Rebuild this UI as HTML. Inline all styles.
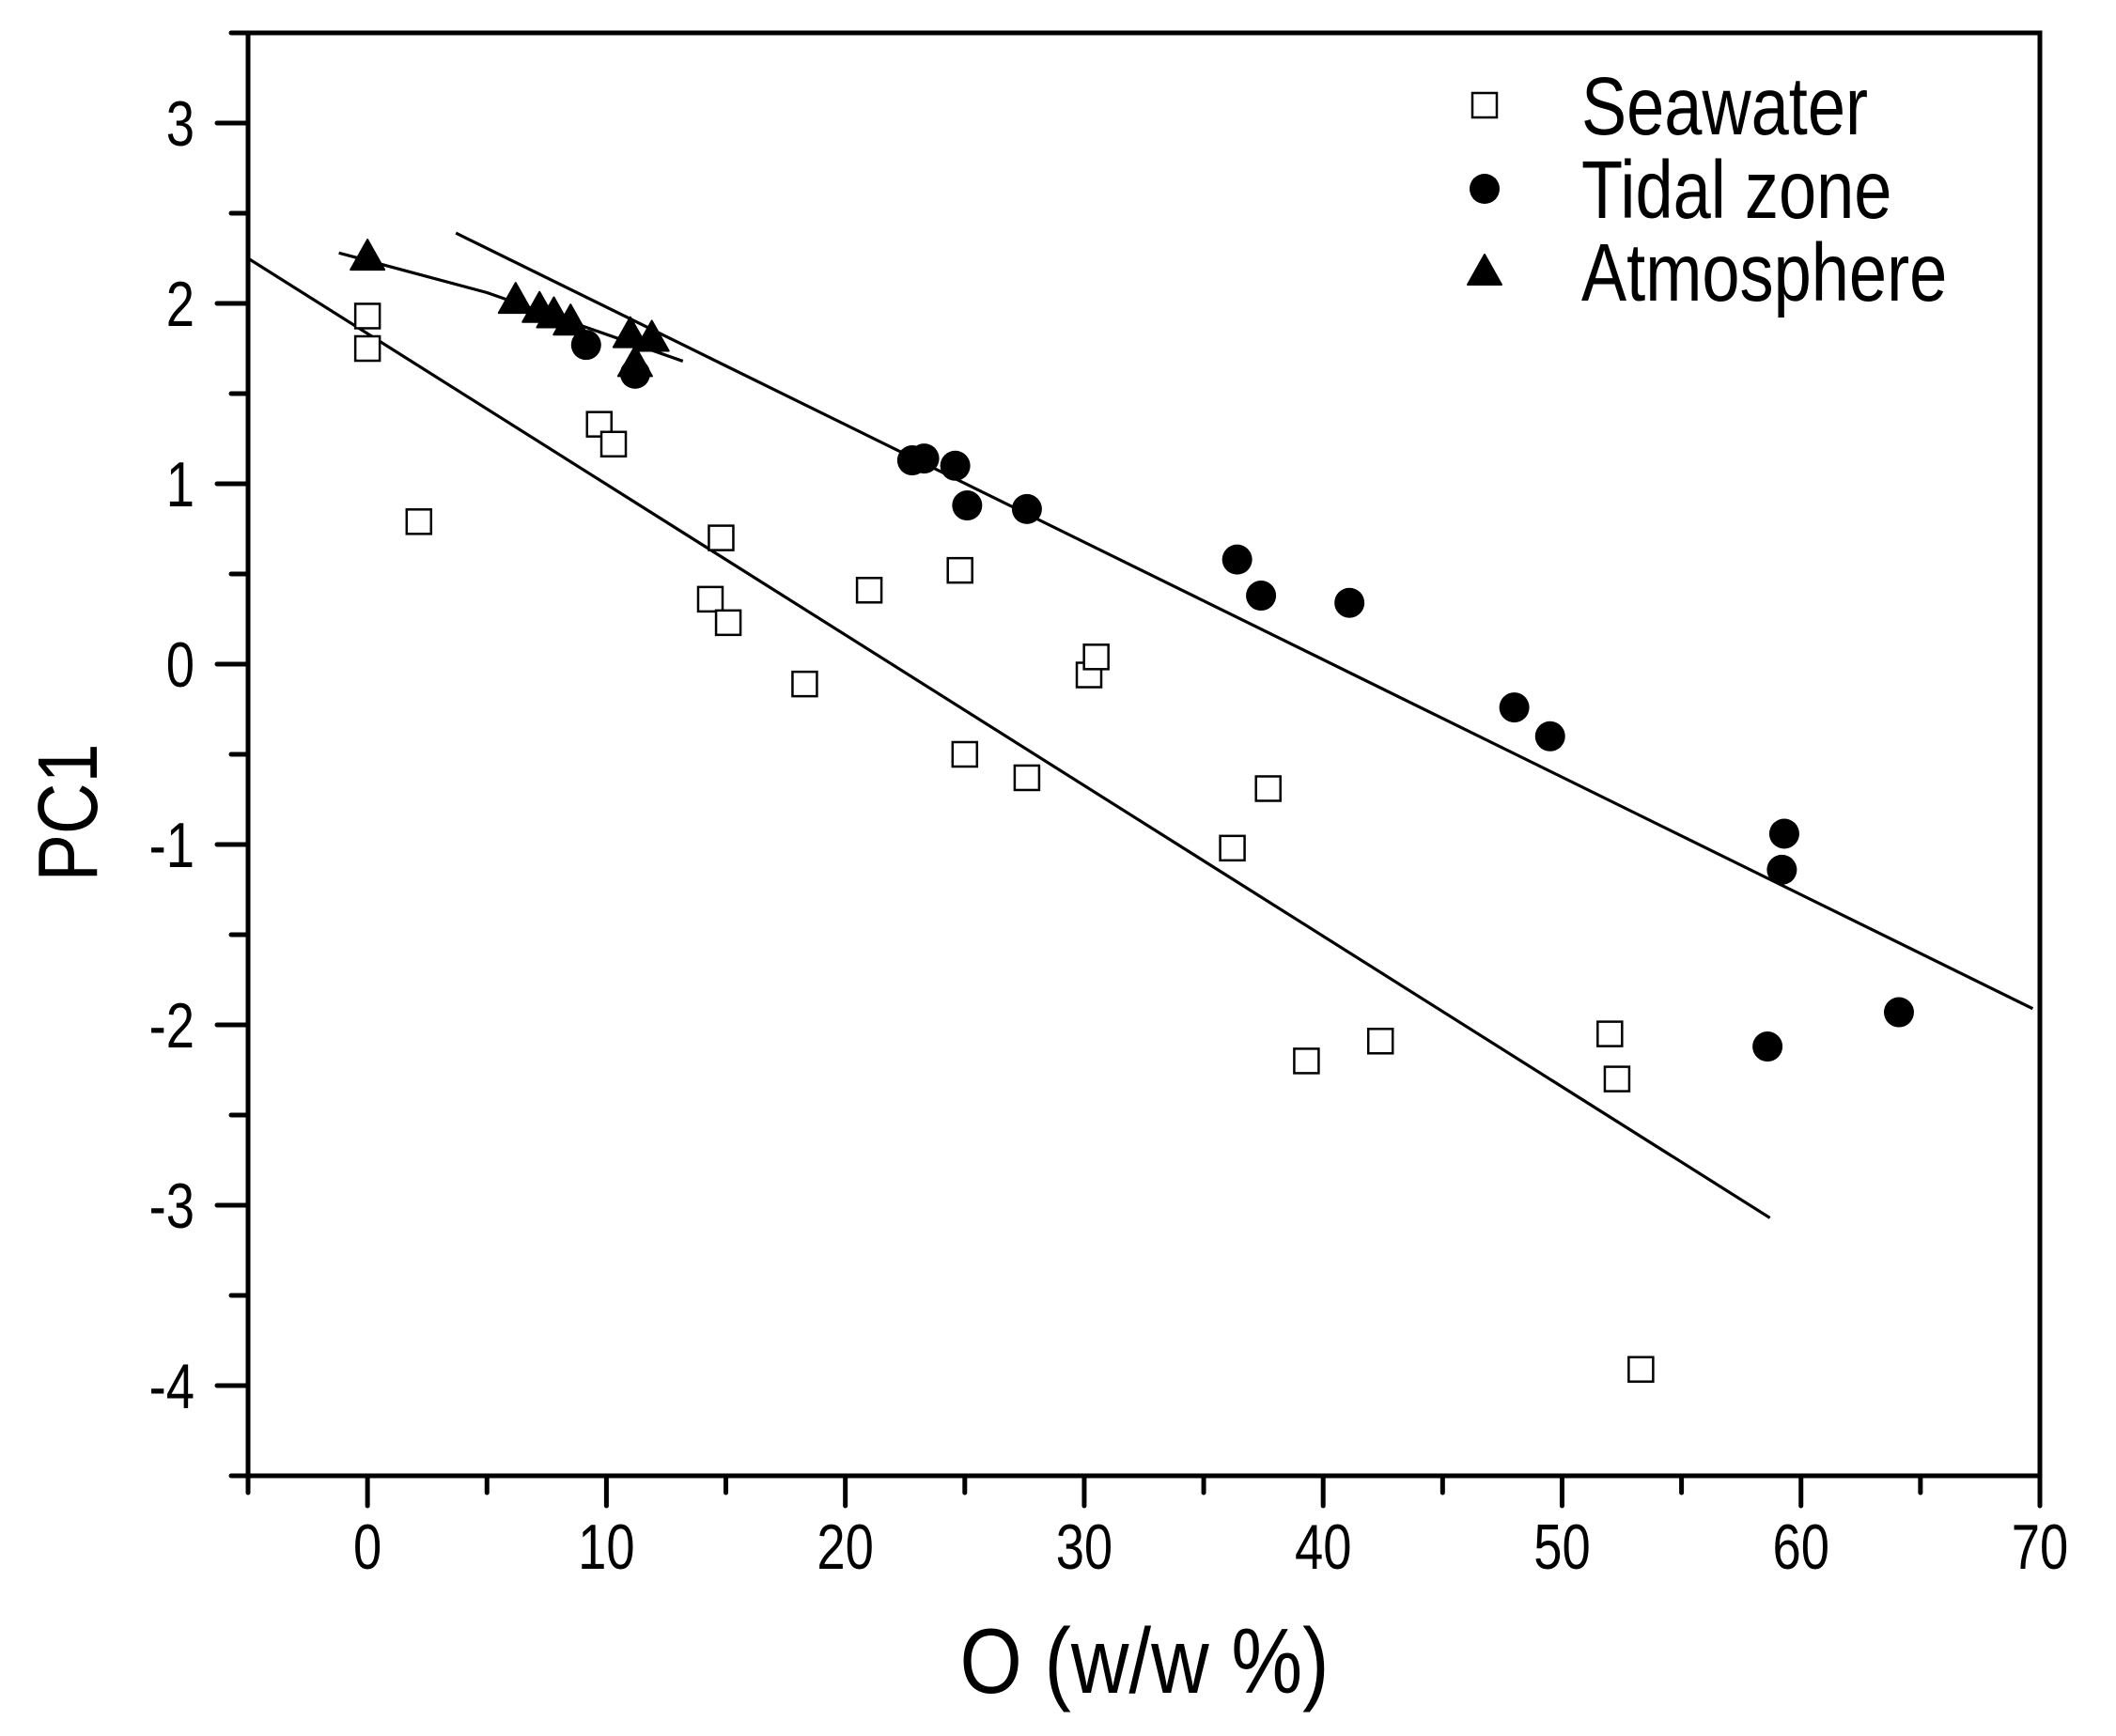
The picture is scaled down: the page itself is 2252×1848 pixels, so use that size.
<!DOCTYPE html>
<html><head><meta charset="utf-8"><style>
html,body{margin:0;padding:0;background:#fff}
svg{display:block;font-family:"Liberation Sans",Arial,sans-serif}
</style></head><body>
<svg id="chart" width="2252" height="1848" viewBox="0 0 2252 1848" xmlns="http://www.w3.org/2000/svg"></svg>
<script>
const xTicks=[0,10,20,30,40,50,60,70];
const yTicks=[-4,-3,-2,-1,0,1,2,3];
const seaX=[0,0,2.15,9.7,10.3,14.8,14.35,15.1,18.3,21.0,24.8,25.0,27.6,30.2,30.5,36.2,37.7,39.3,42.4,52.0,52.3,53.3];
const seaY=[1.93,1.75,0.79,1.33,1.22,0.70,0.36,0.23,-0.11,0.41,0.52,-0.50,-0.63,-0.06,0.04,-1.02,-0.69,-2.20,-2.09,-2.05,-2.30,-3.91];
const tidX=[9.15,11.2,22.8,23.3,24.6,25.1,27.6,36.4,37.4,41.1,48.0,49.5,59.3,59.2,58.6,64.1];
const tidY=[1.77,1.61,1.13,1.14,1.10,0.88,0.86,0.58,0.38,0.34,-0.24,-0.40,-0.94,-1.14,-2.12,-1.93];
const atmX=[0,6.2,7.2,7.8,8.5,11.0,11.9,11.2];
const atmY=[2.26,2.02,1.97,1.94,1.90,1.83,1.81,1.67];
const seaFitX=[-5,58.7], seaFitY=[2.25,-3.07];
const tidFitX=[3.7,69.7], tidFitY=[2.39,-1.91];
const atmFitX=[-1.2,5,13.2], atmFitY=[2.28,2.06,1.68];

const L=264,R=2171,T=35,B=1571,XMIN=-5,XMAX=70,YMIN=-4.5,YMAX=3.5;
const sx=v=>L+(v-XMIN)/(XMAX-XMIN)*(R-L);
const sy=v=>B-(v-YMIN)/(YMAX-YMIN)*(B-T);
const svg=document.getElementById('chart');
const NS='http://www.w3.org/2000/svg';
function mk(tag,attrs,parent){const e=document.createElementNS(NS,tag);for(const k in attrs)e.setAttribute(k,attrs[k]);(parent||svg).appendChild(e);return e;}
function txt(x,y,size,anchor,scale,str,rot){
  const tr=`translate(${x},${y})`+(rot?` rotate(${rot})`:'')+` scale(${scale},1)`;
  const t=mk('text',{x:0,y:0,'font-size':size,'text-anchor':anchor,transform:tr});
  t.textContent=str;return t;
}

let fr=mk('rect',{x:L,y:T,width:R-L,height:B-T,fill:'none',stroke:'#000','stroke-width':5});



for(let v=-5;v<=70;v+=5){
  const major=v%10===0;
  let t=mk('line',{x1:sx(v),x2:sx(v),y1:B,y2:B+(major?32:18),stroke:'#000','stroke-width':5,'stroke-linecap':'round'});
  
  
}
xTicks.forEach(v=>{
  let t=txt(sx(v),1670,68,'middle',0.8,String(v));
  
  
});
for(let v=-4.5;v<=3.5;v+=0.5){
  const major=Number.isInteger(v);
  let t=mk('line',{x1:L,x2:L-(major?33:18),y1:sy(v),y2:sy(v),stroke:'#000','stroke-width':5,'stroke-linecap':'round'});
  
  
}
yTicks.forEach(v=>{
  let t=txt(207,sy(v)+24,68,'end',0.8,String(v));
  
  
});
let xt=txt(1218,1802,98,'middle',0.87,'O (w/w %)');


let yt=txt(103,865,90,'middle',0.84,'PC1',-90);



function fit(xs,ys,name){
  const pts=xs.map((x,i)=>sx(x)+','+sy(ys[i])).join(' ');
  let p=mk('polyline',{points:pts,fill:'none',stroke:'#000','stroke-width':3.2});
  
  
}
fit(seaFitX,seaFitY,'seawater-fit-line');
fit(tidFitX,tidFitY,'tidal-fit-line');
fit(atmFitX,atmFitY,'atmosphere-fit-line');

function sq(cx,cy,name){let e=mk('rect',{x:cx-13,y:cy-13,width:26,height:26,fill:'#fff',stroke:'#000','stroke-width':2.5});
  
  }
function ci(cx,cy,name){let e=mk('circle',{cx:cx,cy:cy,r:16,fill:'#000'});
  
  }
function tri(cx,cy,name){let e=mk('polygon',{points:`${cx},${cy-18} ${cx+18},${cy+14} ${cx-18},${cy+14}`,fill:'#000',stroke:'#000','stroke-width':2,'stroke-linejoin':'round'});
  
  }
seaX.forEach((x,i)=>sq(sx(x),sy(seaY[i]),'seawater-point'));
atmX.forEach((x,i)=>tri(sx(x),sy(atmY[i]),'atmosphere-point'));
tidX.forEach((x,i)=>ci(sx(x),sy(tidY[i]),'tidal-point'));

const legNames=['Seawater','Tidal zone','Atmosphere'];
const legY=[112,201,289];
legNames.forEach((n,i)=>{
  if(i===0)sq(1580,legY[i],'legend-seawater-marker');
  if(i===1)ci(1580,legY[i],'legend-tidal-marker');
  if(i===2)tri(1580,legY[i],'legend-atmosphere-marker');
  let t=txt(1683,legY[i]+31,87,'start',0.83,n);
  
  
});
</script>
</body></html>
